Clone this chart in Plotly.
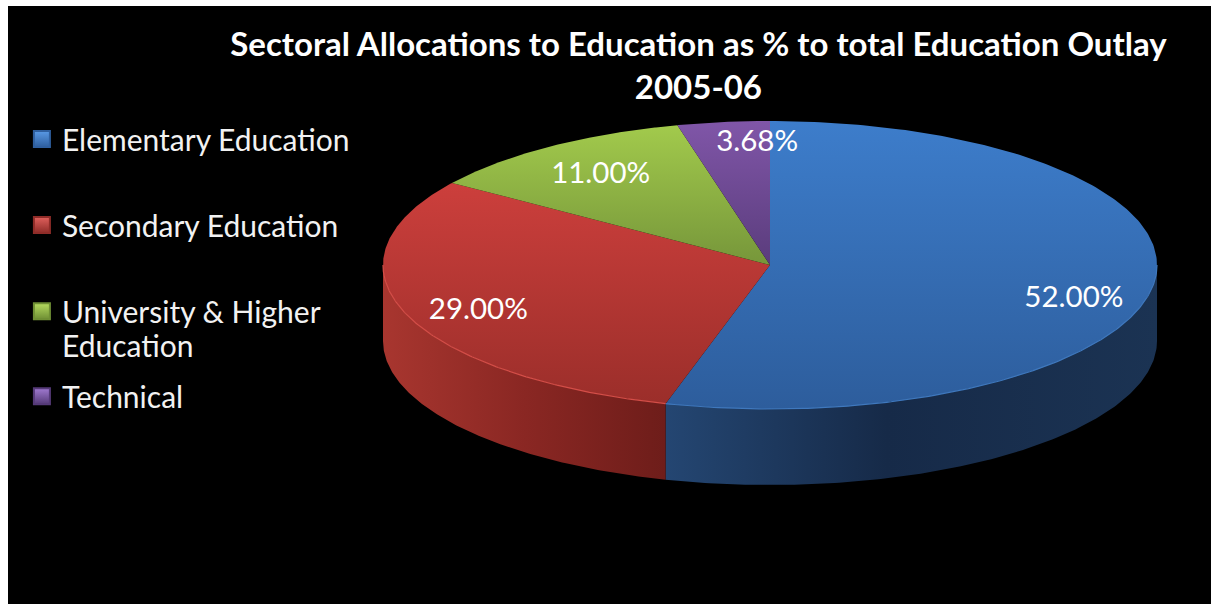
import numpy as np
import plotly.graph_objects as go

# Sector shares of the education outlay, 2005-06 (per cent)
categories = ["Elementary Education", "Secondary Education", "University & Higher<br>Education", "Technical"]
shares = [52.00, 29.00, 11.00, 3.68]

top_colors = [("#3d7dcb", "#2d5d9c"), ("#cc3f3c", "#9b2e2a"), ("#a2ca4c", "#76963a"), ("#8056a8", "#5a3c7c")]
wall_colors = {
    0: [[0, "#244672"], [0.45, "#162a48"], [1, "#1b3353"]],
    1: [[0, "#a8362f"], [0.5, "#8a2723"], [1, "#6e1d1a"]],
}
swatch_colors = [("#5a9ae6", "#2f5f9f"), ("#e0605c", "#8f2c28"), ("#b6dc60", "#6f8f34"), ("#a07ad0", "#553a78")]

# Pie ellipse in screen units
CX, CY, RX, RY, DEPTH = 770, 265, 387, 144, 76
LABEL_RADIUS = 0.79
LABEL_NUDGE = [(1, 19), (-4, 8), (4, 4), (24, -8)]
LEGEND_TOPS = [108, 195, 282, 368]
CONTINUATION_Y = 345

W, H = 1211, 604
fractions = np.array(shares) / sum(shares)
edges = np.concatenate([[0], np.cumsum(fractions)]) * 2 * np.pi


def rim(a0, a1, n=160, drop=0):
    a = np.linspace(a0, a1, n)
    return CX + RX * np.sin(a), CY - RY * np.cos(a) + drop


fig = go.Figure()

# Visible outer walls: only the front half of the ellipse
for i in range(len(shares)):
    a0, a1 = max(edges[i], np.pi / 2), min(edges[i + 1], 3 * np.pi / 2)
    if a1 <= a0:
        continue
    x_up, y_up = rim(a0, a1)
    x_dn, y_dn = rim(a1, a0, drop=DEPTH)
    fig.add_trace(go.Scatter(
        x=np.r_[x_up, x_dn], y=np.r_[y_up, y_dn], mode="lines", fill="toself",
        line=dict(width=0), showlegend=False, hoverinfo="skip",
        fillgradient=dict(type="horizontal", colorscale=wall_colors[i]),
    ))

# Top face of every slice; the y axis is reversed, so the scale runs bottom to top
for i in range(len(shares)):
    x_arc, y_arc = rim(edges[i], edges[i + 1], n=240)
    fig.add_trace(go.Scatter(
        x=np.r_[CX, x_arc, CX], y=np.r_[CY, y_arc, CY], mode="lines", fill="toself",
        line=dict(width=0), showlegend=False, hoverinfo="skip",
        fillgradient=dict(type="vertical", colorscale=[[0, top_colors[i][1]], [1, top_colors[i][0]]]),
    ))

# Bevel highlight along the front edge of the top face
for i, color in [(0, "#3f78bd"), (1, "#d44e48")]:
    a0, a1 = max(edges[i], np.pi / 2), min(edges[i + 1], 3 * np.pi / 2)
    x_arc, y_arc = rim(a0, a1)
    fig.add_trace(go.Scatter(x=x_arc, y=y_arc, mode="lines", line=dict(width=1.2, color=color),
                             showlegend=False, hoverinfo="skip"))

# Value labels
mid = (edges[:-1] + edges[1:]) / 2
label_x = CX + LABEL_RADIUS * RX * np.sin(mid) + np.array([n[0] for n in LABEL_NUDGE])
label_y = CY - LABEL_RADIUS * RY * np.cos(mid) + np.array([n[1] for n in LABEL_NUDGE])
fig.add_trace(go.Scatter(
    x=label_x, y=label_y, mode="text", text=[f"{v:.2f}%" for v in shares],
    textposition="middle center", textfont=dict(family="Lato", size=29.5, color="white"),
    showlegend=False, hoverinfo="skip",
))

# One legend per category so each row sits at its own height
layout_legends = {}
annotations = []
for i, name in enumerate(categories):
    key = "legend" if i == 0 else f"legend{i + 1}"
    first_line, *rest = name.split("<br>")
    fig.add_trace(go.Scatter(
        x=[None], y=[None], mode="markers", name=first_line, legend=key,
        marker=dict(symbol="square", size=16, color=swatch_colors[i][0],
                    line=dict(width=2, color=swatch_colors[i][1]),
                    gradient=dict(type="vertical", color=swatch_colors[i][1])),
    ))
    layout_legends[key] = dict(
        x=14 / W, y=1 - LEGEND_TOPS[i] / H, xanchor="left", yanchor="top",
        bgcolor="rgba(0,0,0,0)", itemsizing="trace", itemwidth=30,
        font=dict(family="Lato", size=30, color="#f2f2f2"),
    )
    # Wrapped part of a long legend entry, set at the tighter line pitch of the list
    for line in rest:
        annotations.append(dict(
            x=60, y=CONTINUATION_Y, xref="x", yref="y", xanchor="left", yanchor="middle",
            text=line, showarrow=False, font=dict(family="Lato", size=30, color="#f2f2f2"),
        ))

fig.update_layout(
    width=W, height=H, autosize=False,
    margin=dict(l=8, r=0, t=6, b=0),
    paper_bgcolor="white", plot_bgcolor="black",
    title=dict(
        text="<b>Sectoral Allocations to Education as % to total Education Outlay<br>2005-06</b>",
        x=695 / W, xanchor="center", xref="paper", y=1 - 56 / H, yanchor="top",
        font=dict(family="Lato", size=33, color="white"),
    ),
    xaxis=dict(range=[8, W], visible=False, fixedrange=True),
    yaxis=dict(range=[H, 6], visible=False, fixedrange=True),
    annotations=annotations,
    **layout_legends,
)

fig.write_html("out.html", config=dict(displayModeBar=False))
